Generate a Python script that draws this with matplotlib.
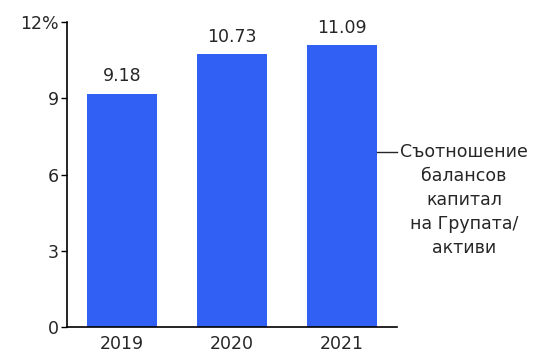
import matplotlib.pyplot as plt

years = ["2019", "2020", "2021"]
ratio = [9.18, 10.73, 11.09]
yticks = [0, 3, 6, 9, 12]
ytick_labels = ["0", "3", "6", "9", "12%"]
series_label = "Съотношение\nбалансов\nкапитал\nна Групата/\nактиви"

BAR_COLOR = "#3160f5"
TXT = "#262626"
FS = 12.5

fig = plt.figure(figsize=(5.35, 3.54), dpi=100)
ax = fig.add_axes([0.125, 0.076, 0.617, 0.862])

x = list(range(len(years)))
ax.bar(x, ratio, width=0.64, color=BAR_COLOR)

for xi, v in zip(x, ratio):
    ax.annotate(f"{v:.2f}", xy=(xi, v), xytext=(0, 6), textcoords="offset points",
                ha="center", va="bottom", fontsize=FS, color=TXT)

ax.set_xlim(-0.5, 2.5)
ax.set_ylim(0, 12)
ax.set_xticks(x)
ax.set_xticklabels(years, fontsize=FS, color=TXT)
ax.set_yticks(yticks)
ax.set_yticklabels(ytick_labels, fontsize=FS, color=TXT)
ax.tick_params(axis="x", length=0, pad=6)
ax.tick_params(axis="y", length=4, width=1, pad=2)
for s in ["top", "right"]:
    ax.spines[s].set_visible(False)
ax.spines["left"].set_linewidth(1.2)
ax.spines["bottom"].set_linewidth(1.2)

# series label with leader line
ax.plot([2.32, 2.5], [6.9, 6.9], color=TXT, lw=1, clip_on=False)
ax.text(3.11, 7.22, series_label, ha="center", va="top", fontsize=FS,
        color=TXT, linespacing=1.42, multialignment="center")

fig.savefig("out.png", dpi=100)
